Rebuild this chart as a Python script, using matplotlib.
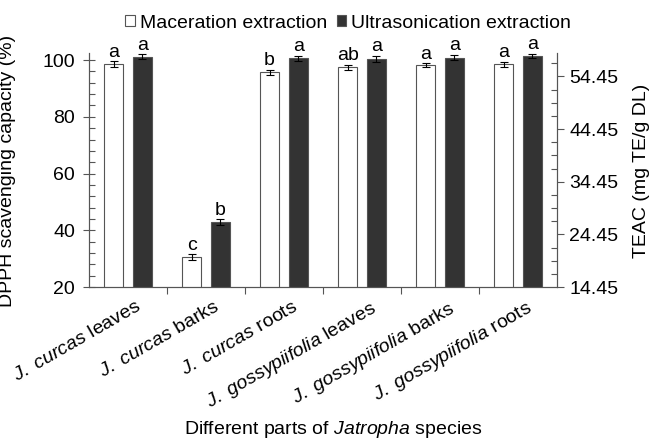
import matplotlib
matplotlib.use("Agg")
import matplotlib.pyplot as plt
import matplotlib.transforms as mtransforms
import numpy as np

plt.rcParams['font.family'] = ['Liberation Sans', 'DejaVu Sans']
plt.rcParams['mathtext.fontset'] = 'custom'
plt.rcParams['mathtext.rm'] = 'Liberation Sans'
plt.rcParams['mathtext.it'] = 'Liberation Sans:italic'

categories = ["J. curcas leaves", "J. curcas barks", "J. curcas roots",
              "J. gossypiifolia leaves", "J. gossypiifolia barks", "J. gossypiifolia roots"]
cat_labels = [r"$\it{J.\ curcas}$ leaves", r"$\it{J.\ curcas}$ barks", r"$\it{J.\ curcas}$ roots",
              r"$\it{J.\ gossypiifolia}$ leaves", r"$\it{J.\ gossypiifolia}$ barks",
              r"$\it{J.\ gossypiifolia}$ roots"]
maceration = [98.6, 30.5, 95.7, 97.4, 98.2, 98.5]
maceration_err = [1.0, 1.0, 0.9, 0.9, 0.7, 1.0]
ultrasonication = [101.2, 42.8, 100.6, 100.5, 100.9, 101.5]
ultrasonication_err = [0.8, 1.0, 0.9, 1.0, 0.9, 0.8]
mac_letters = ["a", "c", "b", "ab", "a", "a"]
ult_letters = ["a", "b", "a", "a", "a", "a"]
right_ticks = [14.45, 24.45, 34.45, 44.45, 54.45]

fig = plt.figure(figsize=(6.5, 4.41), dpi=100)
ax = fig.add_axes([89/650, 1-287/441, (557-89)/650, (287-53)/441])

x = np.arange(len(categories))
w = 0.25
off = 0.185
ax.bar(x - off, maceration, w, color='white', edgecolor='#555555', linewidth=0.8,
       yerr=maceration_err, capsize=3, error_kw=dict(elinewidth=0.8, capthick=0.8, ecolor='black'),
       label='Maceration extraction', zorder=2)
ax.bar(x + off, ultrasonication, w, color='#333333', edgecolor='#555555', linewidth=0.8,
       yerr=ultrasonication_err, capsize=3, error_kw=dict(elinewidth=0.8, capthick=0.8, ecolor='black'),
       label='Ultrasonication extraction', zorder=2)

fs = 14
for i in range(len(categories)):
    ax.text(x[i] - off, maceration[i] + maceration_err[i] + 0.2, mac_letters[i],
            ha='center', va='bottom', fontsize=fs)
    ax.text(x[i] + off, ultrasonication[i] + ultrasonication_err[i] + 0.2, ult_letters[i],
            ha='center', va='bottom', fontsize=fs)

ax.set_xlim(-0.5, len(categories) - 0.5)
ax.set_ylim(20, 102.5)
ax.set_yticks([20, 40, 60, 80, 100])
ax.set_yticks(np.arange(20, 101, 4), minor=True)
ax.tick_params(axis='y', which='major', direction='inout', length=8, width=0.8, labelsize=fs,
               color='#555555', pad=6)
ax.tick_params(axis='y', which='minor', direction='in', length=4, width=0.8, color='#555555')

ax.set_xticks(x)
ax.set_xticklabels(cat_labels, rotation=30, ha='right', rotation_mode='anchor', fontsize=fs)
ax.tick_params(axis='x', which='major', length=0, pad=8)
ax.set_xticks(np.arange(0.5, len(categories) - 0.5, 1), minor=True)
ax.tick_params(axis='x', which='minor', direction='out', length=5, width=0.8, color='#555555')
shift = mtransforms.ScaledTranslation(8/100, 0, fig.dpi_scale_trans)
for lab in ax.get_xticklabels():
    lab.set_transform(lab.get_transform() + shift)

ax.spines['top'].set_visible(False)
for s in ['left', 'bottom', 'right']:
    ax.spines[s].set_color('#555555')
    ax.spines[s].set_linewidth(0.8)

ax2 = ax.twinx()
ax2.set_ylim(14.45, 58.9)
ax2.set_yticks(right_ticks)
ax2.set_yticklabels([f"{t:.2f}" for t in right_ticks])
ax2.set_yticks(np.arange(14.45, 58.9, 2.5), minor=True)
ax2.tick_params(axis='y', which='major', direction='out', length=5, width=0.8, labelsize=fs,
                color='#555555', pad=4)
ax2.tick_params(axis='y', which='minor', direction='in', length=4, width=0.8, color='#555555')
ax2.spines['top'].set_visible(False)
for s in ['left', 'bottom', 'right']:
    ax2.spines[s].set_color('#555555')
    ax2.spines[s].set_linewidth(0.8)

fig.text(8/650, 1-171/441, 'DPPH scavenging capacity (%)', rotation=90, ha='center', va='center', fontsize=fs)
fig.text(641/650, 1-171/441, 'TEAC (mg TE/g DL)', rotation=90, ha='center', va='center', fontsize=fs)

handles, labels = ax.get_legend_handles_labels()
fig.legend(handles, labels, loc='center', bbox_to_anchor=(348/650, 1-23/441), ncol=2,
           frameon=False, fontsize=fs, handlelength=0.5, handleheight=0.5,
           handletextpad=0.25, columnspacing=0.5, borderaxespad=0)

fig.text(333/650, 1-430/441, r'Different parts of $\it{Jatropha}$ species', ha='center', va='center', fontsize=fs)

fig.savefig('out.png', dpi=100)
